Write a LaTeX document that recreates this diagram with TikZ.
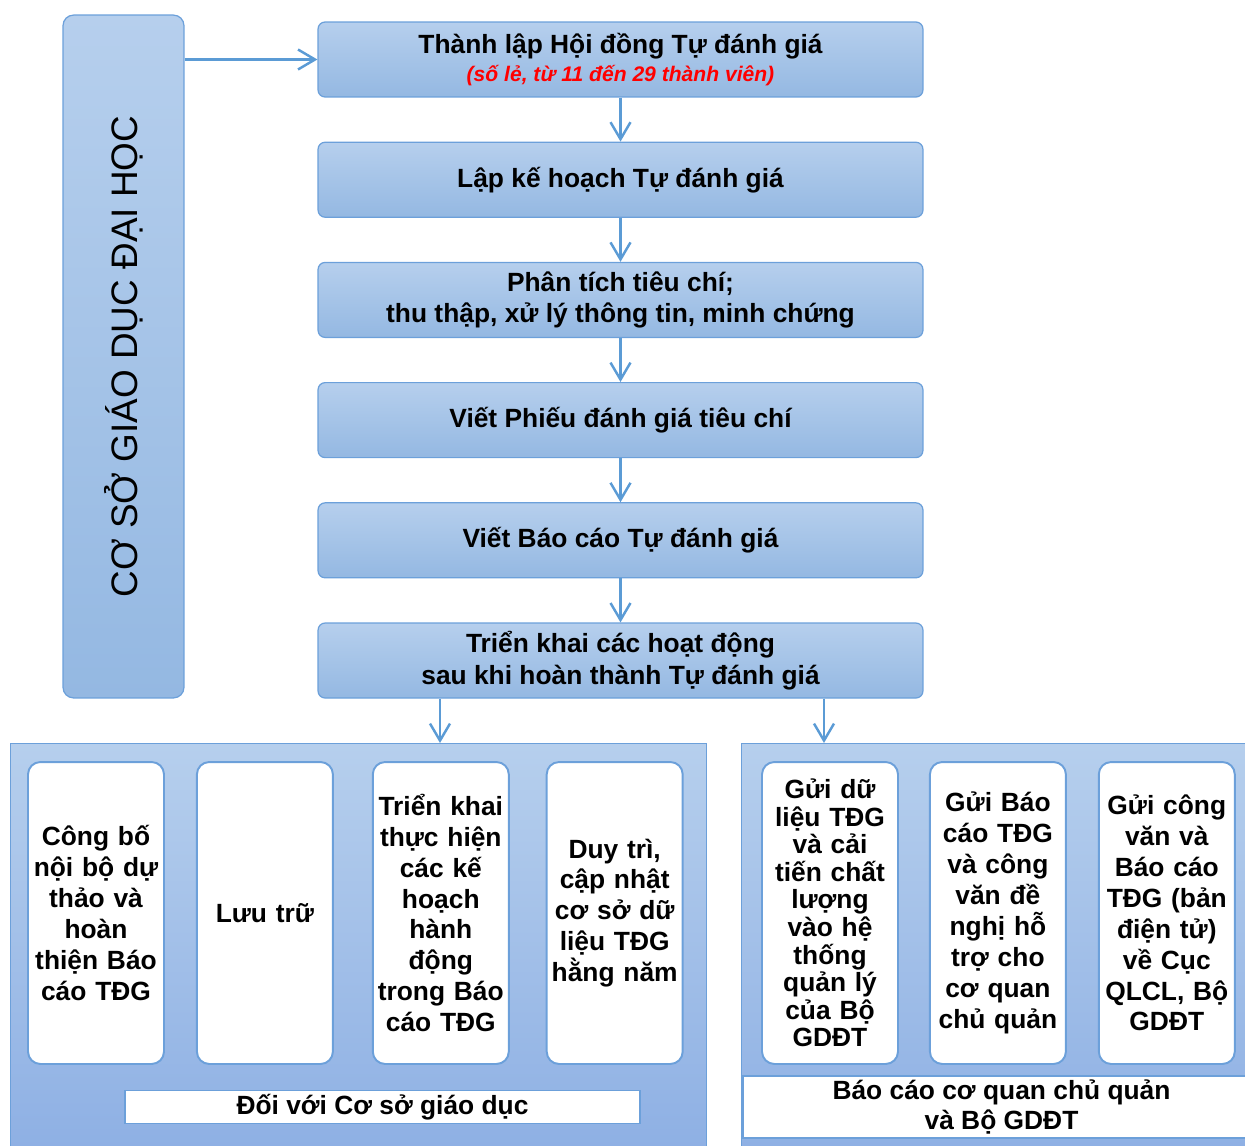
\documentclass[tikz,border=0pt]{standalone}
\usepackage{fontspec}
\setmainfont{Liberation Sans}
\usetikzlibrary{arrows.meta, positioning}
\definecolor{boxtop}{RGB}{182,207,237}
\definecolor{boxbottom}{RGB}{148,184,226}
\definecolor{boxline}{RGB}{108,160,218}
\definecolor{arrowblue}{RGB}{91,155,213}

\begin{document}
\begin{tikzpicture}[
    x=0.02cm, y=-0.02cm,
    node distance=0.88cm,
    stepbox/.style={
        draw=boxline,
        line width=0.7pt,
        top color=boxtop,
        bottom color=boxbottom,
        rounded corners=4pt,
        minimum width=12.1cm,
        minimum height=1.5cm,
        align=center,
        font=\fontsize{15}{18}\selectfont\bfseries
    },
    sidebox/.style={
        draw=boxline,
        line width=0.7pt,
        top color=boxtop,
        bottom color=boxbottom,
        rounded corners=6pt,
        minimum width=2.42cm,
        minimum height=13.66cm
    },
    panel/.style={
        draw=boxline,
        line width=0.8pt,
        top color=boxtop,
        bottom color=boxbottom!95!blue,
        anchor=north west,
        minimum height=8.4cm
    },
    itembox/.style={
        draw=boxline,
        line width=1.1pt,
        fill=white,
        rounded corners=7pt,
        minimum width=2.72cm,
        minimum height=6.04cm,
        text width=2.6cm,
        align=center,
        inner sep=0pt,
        font=\fontsize{15}{17.6}\selectfont\bfseries
    },
    labelbox/.style={
        draw=boxline,
        line width=1.1pt,
        fill=white,
        align=center,
        inner sep=0pt,
        font=\fontsize{15}{17.6}\selectfont\bfseries
    },
    flow/.style={-{Straight Barb[length=3.4mm, width=4mm]}, draw=arrowblue, line width=1.4pt}
]
\useasboundingbox (0,0) rectangle (1245,1146);

% left column
\node[sidebox] (school) at (123.5,356.5) {};
\node[rotate=90, font=\fontsize{21}{25}\selectfont] (schooltext) at (school.center) {CƠ SỞ GIÁO DỤC ĐẠI HỌC};

% main steps
\node[stepbox] (found) at (620.5,59.5) {
    Thành lập Hội đồng Tự đánh giá\\[-2pt]
    {\color{red}\fontsize{12}{14}\selectfont\bfseries\itshape (số lẻ, từ 11 đến 29 thành viên)}
};
\node[stepbox, below=of found] (plan) {Lập kế hoạch Tự đánh giá};
\node[stepbox, below=of plan] (analyse) {
    Phân tích tiêu chí;\\
    thu thập, xử lý thông tin, minh chứng
};
\node[stepbox, below=of analyse] (sheet) {Viết Phiếu đánh giá tiêu chí};
\node[stepbox, below=of sheet] (report) {Viết Báo cáo Tự đánh giá};
\node[stepbox, below=of report] (follow) {
    Triển khai các hoạt động\\
    sau khi hoàn thành Tự đánh giá
};

% bottom panels
\node[panel, minimum width=13.92cm] (ownpanel) at (10,743) {};
\node[panel, minimum width=10.5cm] (sendpanel) at (741,743) {};
\coordinate (ownin) at (440,743);
\coordinate (sendin) at (824,743);

\node[itembox] (publish) at (96,913) {
    Công bố\\nội bộ dự\\thảo và\\hoàn\\thiện Báo\\cáo TĐG
};
\node[itembox, right=0.62cm of publish] (store) {Lưu trữ};
\node[itembox, right=0.76cm of store] (deploy) {
    Triển khai\\thực hiện\\các kế\\hoạch\\hành\\động\\trong Báo\\cáo TĐG
};
\node[itembox, right=0.72cm of deploy] (maintain) {
    Duy trì,\\cập nhật\\cơ sở dữ\\liệu TĐG\\hằng năm
};
\node[labelbox, minimum width=10.3cm, minimum height=0.66cm] (ownlabel) at (382.5,1107) {Đối với Cơ sở giáo dục};

\node[itembox, font=\fontsize{15}{15.7}\selectfont\bfseries] (senddata) at (830,913) {
    Gửi dữ\\liệu TĐG\\và cải\\tiến chất\\lượng\\vào hệ\\thống\\quản lý\\của Bộ\\GDĐT
};
\node[itembox, right=0.6cm of senddata] (sendreport) {
    Gửi Báo\\cáo TĐG\\và công\\văn đề\\nghị hỗ\\trợ cho\\cơ quan\\chủ quản
};
\node[itembox, right=0.62cm of sendreport] (sendletter) {
    Gửi công\\văn và\\Báo cáo\\TĐG (bản\\điện tử)\\về Cục\\QLCL, Bộ\\GDĐT
};
\node[labelbox, minimum width=10.34cm, minimum height=1.24cm] (sendlabel) at (1001.5,1107) {
    Báo cáo cơ quan chủ quản\\
    và Bộ GDĐT
};

% connectors
\draw[flow] (school.east |- found.west) -- (found.west);
\draw[flow] (found) -- (plan);
\draw[flow] (plan) -- (analyse);
\draw[flow] (analyse) -- (sheet);
\draw[flow] (sheet) -- (report);
\draw[flow] (report) -- (follow);
\draw[flow] (follow.south -| ownin) -- (ownin);
\draw[flow] (follow.south -| sendin) -- (sendin);

\end{tikzpicture}
\end{document}
